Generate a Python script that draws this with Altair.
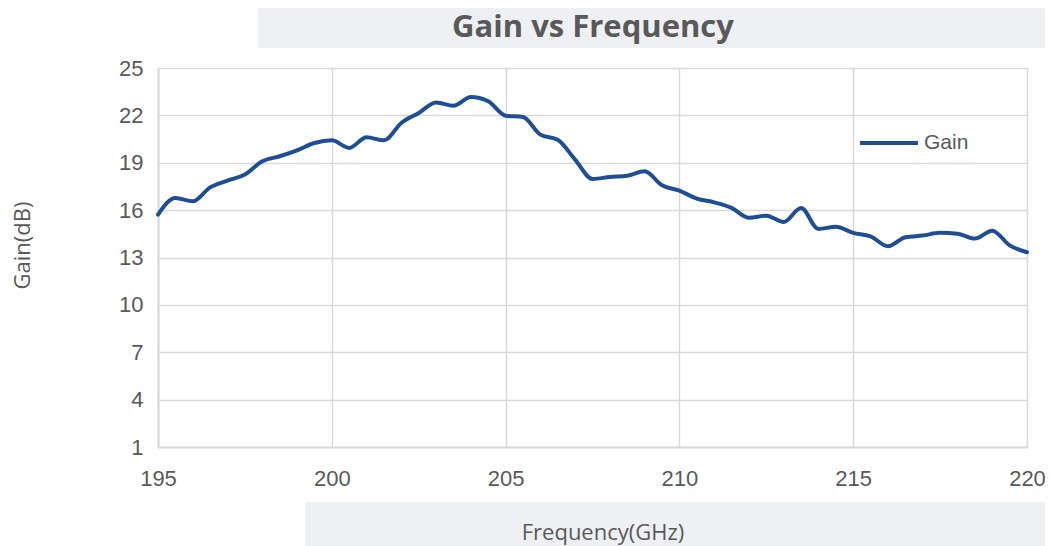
import altair as alt
import pandas as pd

freq = [195.0, 195.5, 196.0, 196.5, 197.0, 197.5, 198.0, 198.5, 199.0, 199.5,
        200.0, 200.5, 201.0, 201.5, 202.0, 202.5, 203.0, 203.5, 204.0, 204.5,
        205.0, 205.5, 206.0, 206.5, 207.0, 207.5, 208.0, 208.5, 209.0, 209.5,
        210.0, 210.5, 211.0, 211.5, 212.0, 212.5, 213.0, 213.5, 214.0, 214.5,
        215.0, 215.5, 216.0, 216.5, 217.0, 217.5, 218.0, 218.5, 219.0, 219.5,
        220.0]
gain = [15.72, 16.77, 16.56, 17.44, 17.87, 18.25, 19.09, 19.41, 19.79, 20.25,
        20.42, 19.94, 20.61, 20.42, 21.52, 22.15, 22.82, 22.61, 23.16, 22.89,
        21.98, 21.90, 20.78, 20.46, 19.20, 17.97, 18.10, 18.18, 18.46, 17.57,
        17.23, 16.73, 16.49, 16.14, 15.51, 15.65, 15.25, 16.14, 14.81, 14.94,
        14.56, 14.34, 13.71, 14.28, 14.39, 14.56, 14.51, 14.20, 14.70, 13.77,
        13.33]
series = ["Gain"] * len(freq)
x_ticks = [195, 200, 205, 210, 215, 220]
y_ticks = [1, 4, 7, 10, 13, 16, 19, 22, 25]
chart_title = "Gain vs Frequency"
x_title = "Frequency(GHz)"
y_title = "Gain(dB)"

df = pd.DataFrame({"freq": freq, "gain": gain, "series": series})
deco = pd.DataFrame({"k": [0]})

W, H = 869, 379
grey_txt = "#595959"
grid = "#D9D9D9"
band = "#EFF0F3"

# faint watermark bands behind title and x-axis title (decoration only)
top_band = alt.Chart(deco).mark_rect(color=band).encode(
    x=alt.value(100), x2=alt.value(895), y=alt.value(-68), y2=alt.value(-20))
bottom_band = alt.Chart(deco).mark_rect(color=band).encode(
    x=alt.value(147), x2=alt.value(895), y=alt.value(434), y2=alt.value(478))

title_txt = alt.Chart(deco).mark_text(
    text=chart_title, font="Open Sans", fontSize=31, fontWeight="bold",
    color=grey_txt, align="center", baseline="middle"
).encode(x=alt.value(435), y=alt.value(-40))

xtitle_txt = alt.Chart(deco).mark_text(
    text=x_title, font="Open Sans", fontSize=22, color=grey_txt,
    align="center", baseline="middle"
).encode(x=alt.value(445), y=alt.value(465))

line = alt.Chart(df).mark_line(
    interpolate="monotone", strokeWidth=4, strokeCap="round"
).encode(
    x=alt.X("freq:Q", scale=alt.Scale(domain=[195, 220], nice=False, zero=False),
            axis=alt.Axis(values=x_ticks, title=None, grid=True,
                          gridColor=grid, gridWidth=1.5, domainColor=grid, domainWidth=2,
                          ticks=False, labelFont="Liberation Sans", labelFontSize=22,
                          labelColor=grey_txt, labelPadding=21, labelFlush=False)),
    y=alt.Y("gain:Q", scale=alt.Scale(domain=[1, 25], nice=False, zero=False),
            axis=alt.Axis(values=y_ticks, title=y_title, grid=True,
                          gridColor=grid, gridWidth=1.5, domainColor=grid, domainWidth=2,
                          ticks=False, labelFont="Liberation Sans", labelFontSize=22,
                          labelColor=grey_txt, labelPadding=15,
                          titleFont="Open Sans", titleFontSize=22, titleFontWeight="normal",
                          titleColor=grey_txt, titleAngle=270, titleX=-136, titleY=177,
                          titleBaseline="middle", titleAlign="center")),
    color=alt.Color("series:N", scale=alt.Scale(range=["#1F4E96"]),
                    legend=alt.Legend(title=None, orient="none", legendX=700, legendY=44,
                                      symbolType="stroke", symbolSize=3364,
                                      symbolStrokeWidth=4, labelFont="Liberation Sans",
                                      labelFontSize=21, labelColor=grey_txt,
                                      labelOffset=4, padding=0)),
)

chart = alt.layer(top_band, bottom_band, title_txt, xtitle_txt, line).properties(
    width=W, height=H,
    padding={"left": 150, "top": 60, "right": 18, "bottom": 99},
    autosize=alt.AutoSizeParams(type="none"),
).configure_view(stroke=grid, strokeWidth=2).configure(background="white")

chart.save("out.html", embed_options={"renderer": "svg", "actions": False})
